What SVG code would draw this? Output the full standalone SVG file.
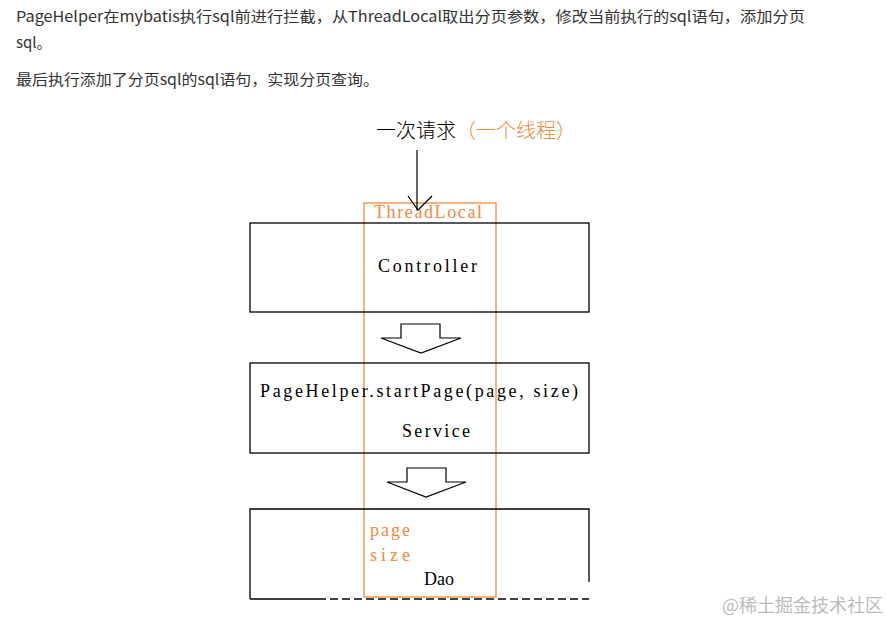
<svg xmlns="http://www.w3.org/2000/svg" width="886" height="622" viewBox="0 0 886 622">
<style>
.p{font-family:"Noto Sans CJK SC","Noto Sans",sans-serif;font-size:15px;fill:#333}
.m{font-family:"Liberation Serif","Noto Sans CJK SC",serif;font-size:18px}
.blk{fill:#000}
.org{fill:#f08a3c}
.box{fill:none;stroke:#000;stroke-width:1.3}
.ar{fill:#fff;stroke:#000;stroke-width:1.2}
</style>
<rect width="886" height="622" fill="#fff"/>
<g id="paragraph">
<text class="p" x="16" y="22" textLength="789" lengthAdjust="spacingAndGlyphs">PageHelper在mybatis执行sql前进行拦截，从ThreadLocal取出分页参数，修改当前执行的sql语句，添加分页</text>
<text class="p" x="16" y="48">sql。</text>
<text class="p" x="16" y="85" textLength="363" lengthAdjust="spacingAndGlyphs">最后执行添加了分页sql的sql语句，实现分页查询。</text>
</g>
<g id="request">
<text x="376" y="138" style="font-family:'Noto Sans CJK SC',sans-serif;font-size:20px;font-weight:300"><tspan class="blk">一次请求</tspan><tspan class="org">（一个线程）</tspan></text>
</g>
<g id="threadlocal">
<rect x="364" y="203" width="132" height="394" fill="none" stroke="#f08a3c" stroke-width="1.3"/>
<text class="m org" x="374" y="218" textLength="108" lengthAdjust="spacing">ThreadLocal</text>
</g>
<g id="controller">
<rect class="box" x="250" y="223" width="339" height="89"/>
<text class="m blk" x="378" y="272" textLength="99" lengthAdjust="spacing">Controller</text>
</g>
<g id="service">
<rect class="box" x="250" y="363" width="339" height="90"/>
<text class="m blk" x="260" y="397" textLength="318" lengthAdjust="spacing">PageHelper.startPage(page, size)</text>
<text class="m blk" x="402" y="437" textLength="68" lengthAdjust="spacing">Service</text>
</g>
<g id="dao">
<path class="box" d="M250 599 V509 H589 V582"/>
<path d="M250 599 H318" stroke="#000" stroke-width="1.3"/>
<path d="M318 599 H589" stroke="#000" stroke-width="1.3" stroke-dasharray="8,4"/>
<text class="m org" x="370" y="536" textLength="40" lengthAdjust="spacing">page</text>
<text class="m org" x="370" y="561" textLength="40" lengthAdjust="spacing">size</text>
<text class="m blk" x="424" y="585" textLength="30" lengthAdjust="spacing">Dao</text>
</g>
<g id="connectors">
<path d="M417 150 V210" stroke="#000" stroke-width="1.2"/>
<path d="M408 196 L418 210 L432 196" fill="none" stroke="#000" stroke-width="1.2"/>
<path class="ar" d="M401 324 H440 V338 H461 L421 353 L381 338 H401 Z"/>
<path class="ar" d="M407 468 H446 V482 H466 L426 497 L387 482 H407 Z"/>
</g>
<g id="watermark">
<text x="722" y="612" style="font-family:'Noto Sans CJK SC',sans-serif;font-size:18px;fill:#bbb">@稀土掘金技术社区</text>
</g>
</svg>
